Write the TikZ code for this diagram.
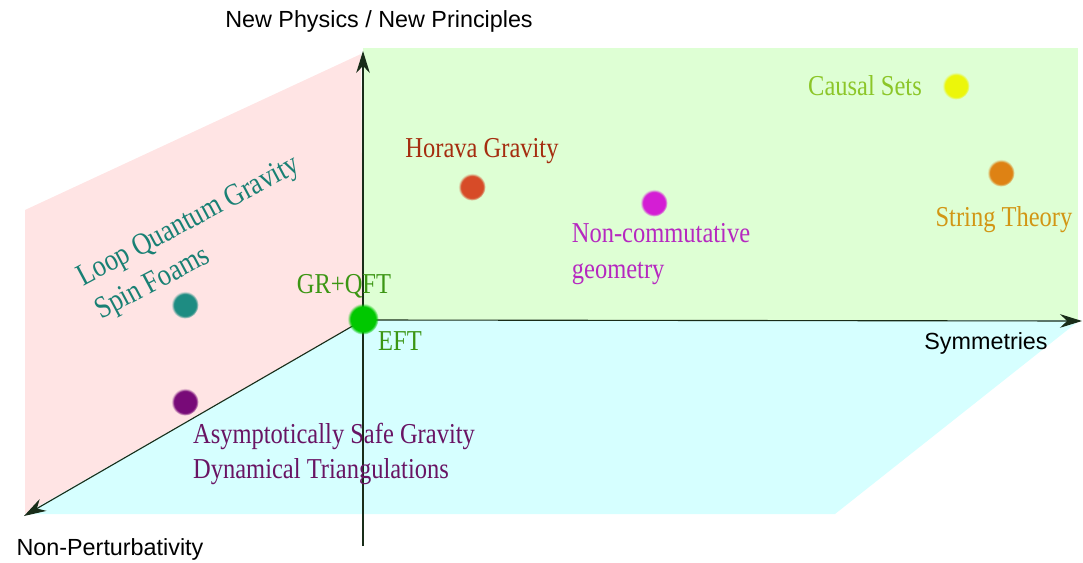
\documentclass[tikz,border=0pt]{standalone}
\usepackage{fontspec}
\setmainfont{Liberation Serif}
\newfontfamily\axisfont{Liberation Sans}
\newfontfamily\labfont[FakeStretch=0.85]{Liberation Serif}
\usetikzlibrary{arrows.meta,fadings}
\usepackage{xcolor}
\definecolor{planeRed}{RGB}{255,228,228}
\definecolor{planeGreen}{RGB}{222,255,212}
\definecolor{planeCyan}{RGB}{214,255,255}
\definecolor{axisInk}{RGB}{25,45,25}
\definecolor{dotGreen}{RGB}{0,200,0}
\definecolor{dotYellow}{RGB}{236,246,10}
\definecolor{dotHorava}{RGB}{215,75,40}
\definecolor{dotNC}{RGB}{212,30,212}
\definecolor{dotString}{RGB}{222,130,20}
\definecolor{dotLQG}{RGB}{30,140,130}
\definecolor{dotASG}{RGB}{120,10,120}
\definecolor{txtCausal}{RGB}{140,198,40}
\definecolor{txtHorava}{RGB}{165,45,15}
\definecolor{txtNC}{RGB}{182,40,192}
\definecolor{txtString}{RGB}{210,150,20}
\definecolor{txtLQG}{RGB}{25,128,116}
\definecolor{txtGR}{RGB}{60,150,20}
\definecolor{txtASG}{RGB}{105,20,100}
\tikzset{
  axis/.style={-{Stealth[length=5.5mm,width=3.4mm]}, line width=0.8pt, axisInk},
  axlab/.style={font=\axisfont\fontsize{16.6}{20}\selectfont, inner sep=0pt},
  theory/.style={font=\labfont\fontsize{20.5}{25}\selectfont, inner sep=0pt, align=left},
  blob/.style={circle, inner sep=0pt, minimum size=6.8mm, fill=#1,
    path fading=circle with fuzzy edge 20 percent},
}

\begin{document}
\begin{tikzpicture}[x=0.025cm, y=-0.025cm]
    \useasboundingbox (0,0) rectangle (1083,563);
    % the three planes
    \fill[planeCyan] (363,320) -- (1080,320) -- (835,514) -- (25,514) -- cycle;
    \fill[planeGreen] (363,48) rectangle (1078,320);
    \fill[planeRed] (363,320) -- (361,54) -- (25,210) -- (25,514) -- cycle;
    % axes
    \coordinate (o) at (363,320);
    \coordinate (up) at (363,51);
    \coordinate (down) at (363,546);
    \coordinate (right) at (1082,321);
    \coordinate (front) at (24,516);
    \draw[axis] (down) -- (up);
    \draw[axis] (o) -- (right);
    \draw[axis] (o) -- (front);
    \node[axlab] (ylab) at (379,21) {New Physics / New Principles};
    \node[axlab] (xlab) at (986,343) {Symmetries};
    \node[axlab] (zlab) at (110,549) {Non-Perturbativity};
    % theories
    \node[blob=dotGreen, minimum size=7.8mm] (gr) at (363,319) {};
    \node[blob=dotYellow] (cs) at (956,86) {};
    \node[blob=dotHorava] (hg) at (472,187) {};
    \node[blob=dotNC] (nc) at (654,203) {};
    \node[blob=dotString] (st) at (1001,173) {};
    \node[blob=dotLQG] (lqg) at (185,305) {};
    \node[blob=dotASG] (asg) at (185,402) {};
    \node[theory, text=txtGR] (grl) at (344,286) {GR+QFT};
    \node[theory, text=txtGR] (eftl) at (400,341) {EFT};
    \node[theory, text=txtCausal] (csl) at (865,86) {Causal Sets};
    \node[theory, text=txtHorava] (hgl) at (482,151) {Horava Gravity};
    \node[theory, text=txtNC] (ncl) at (661,254) {Non-commutative\\geometry};
    \node[theory, text=txtString] (stl) at (1004,220) {String Theory};
    \node[theory, text=txtLQG, rotate=28, font=\labfont\fontsize{22}{27}\selectfont] (lqgl) at (198,239) {Loop Quantum Gravity\\Spin Foams};
    \node[theory, text=txtASG] (asgl) at (334,454) {Asymptotically Safe Gravity\\Dynamical Triangulations};
\end{tikzpicture}
\end{document}
